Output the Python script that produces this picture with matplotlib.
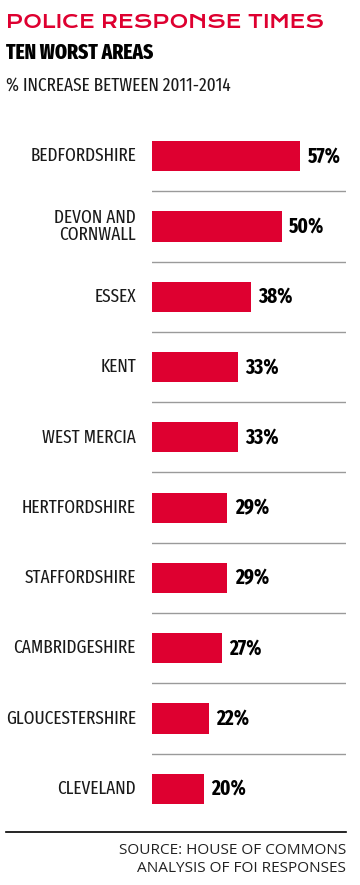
import matplotlib
matplotlib.use('Agg')
import matplotlib.pyplot as plt
from matplotlib import font_manager

# Data
areas = ['BEDFORDSHIRE', 'DEVON AND\nCORNWALL', 'ESSEX', 'KENT', 'WEST MERCIA',
         'HERTFORDSHIRE', 'STAFFORDSHIRE', 'CAMBRIDGESHIRE', 'GLOUCESTERSHIRE', 'CLEVELAND']
increase = [57, 50, 38, 33, 33, 29, 29, 27, 22, 20]

red = '#DE0030'
installed = {f.name for f in font_manager.fontManager.ttflist}


def pick(*fams):
    for f in fams:
        if f in installed:
            return f
    return 'DejaVu Sans'


cond = pick('Fira Sans Extra Condensed', 'Barlow Condensed', 'Roboto Condensed')
wide = pick('Krona One', 'Encode Sans Expanded', 'Montserrat')
plain = pick('Open Sans', 'Noto Sans')

W, H = 360, 885
fig = plt.figure(figsize=(W / 100, H / 100), dpi=100)
renderer = fig.canvas.get_renderer()


def fit(t, width_px):
    # scale a text so it spans the same width as in the reference
    w = t.get_window_extent(renderer).width
    t.set_fontsize(t.get_fontsize() * width_px / w)


# axes placed in pixel terms: x 152..346, y 121..824
ax = fig.add_axes([152 / W, (H - 824) / H, (346 - 152) / W, 703 / H])
ypos = list(range(len(areas)))
ax.barh(ypos, increase, height=0.43, color=red, left=0)
ax.set_xlim(0, (346 - 152) / 2.6)
ax.set_ylim(len(areas) - 0.5, -0.5)
ax.axis('off')

# separators between rows
for i in range(len(areas) - 1):
    ax.axhline(i + 0.5, color='#9a9a9a', linewidth=1)

for i, (name, v) in enumerate(zip(areas, increase)):
    ax.text(v + 2.8, i, f'{v}%', va='center', ha='left', fontsize=15,
            fontweight='bold', family=cond, color='black')
    ax.annotate(name, xy=(0, i), xycoords='data', xytext=(-16, 0),
                textcoords='offset pixels', ha='right', va='center',
                fontsize=13.5, fontweight='normal', family=cond, color='#1a1a1a',
                linespacing=0.95)

# Titles
t1 = fig.text(6 / W, 1 - 22 / H, 'POLICE RESPONSE TIMES', color=red, fontsize=13.5,
              fontweight='heavy', va='center', ha='left', family=wide)
fit(t1, 318)
t2 = fig.text(6 / W, 1 - 53 / H, 'TEN WORST AREAS', color='black', fontsize=15,
              fontweight='heavy', va='center', ha='left', family=cond)
fit(t2, 147)
t3 = fig.text(6 / W, 1 - 85 / H, '% INCREASE BETWEEN 2011-2014', color='#1a1a1a', fontsize=14,
              fontweight='normal', va='center', ha='left', family=cond)
fit(t3, 226)

# bottom rule and source
fig.add_artist(plt.Line2D([6 / W, 346 / W], [1 - 832 / H, 1 - 832 / H],
                          color='black', linewidth=1.2))
s1 = fig.text(346 / W, 1 - 851 / H, 'SOURCE: HOUSE OF COMMONS', color='#222222', fontsize=10,
              ha='right', va='center', family=plain)
fit(s1, 228)
s2 = fig.text(346 / W, 1 - 868 / H, 'ANALYSIS OF FOI RESPONSES', color='#222222',
              fontsize=s1.get_fontsize(), ha='right', va='center', family=plain)

plt.savefig('out.png', dpi=100)
